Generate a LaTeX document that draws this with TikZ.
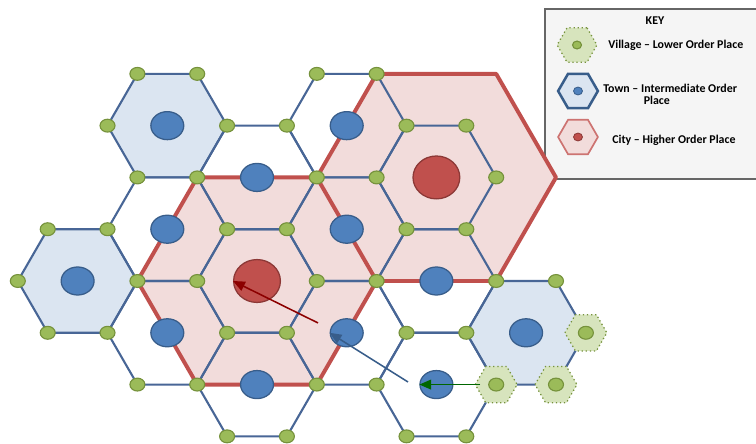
\documentclass[tikz,border=0pt]{standalone}
\usepackage{fontspec}
\setmainfont{Carlito}
\usetikzlibrary{shapes.geometric,arrows.meta}

\definecolor{gridblue}{RGB}{72,102,150}
\definecolor{townfill}{RGB}{219,229,241}
\definecolor{townblue}{RGB}{79,129,189}
\definecolor{townedge}{RGB}{56,93,138}
\definecolor{cityfill}{RGB}{242,220,219}
\definecolor{cityred}{RGB}{192,80,77}
\definecolor{cityedge}{RGB}{140,56,54}
\definecolor{villgreen}{RGB}{155,187,89}
\definecolor{villedge}{RGB}{118,146,60}
\definecolor{villfill}{RGB}{215,228,189}

\begin{document}
\begin{tikzpicture}
[
x=0.75cm, y=1.299cm,
road/.style={draw=gridblue, line width=1.5pt, line join=round},
bound/.style={draw=cityred, line width=2.8pt, line join=round},
vnode/.style={ellipse, fill=villgreen, draw=villedge, line width=0.8pt, minimum width=10.7pt, minimum height=9.2pt, inner sep=0},
tnode/.style={ellipse, fill=townblue, draw=townedge, line width=0.9pt, minimum width=23.5pt, minimum height=20pt, inner sep=0},
cnode/.style={ellipse, fill=cityred, draw=cityedge, line width=0.9pt, minimum width=33.4pt, minimum height=30.6pt, inner sep=0},
hexnode/.style={regular polygon, regular polygon sides=6, inner sep=0},
vhex/.style={hexnode, minimum size=29.9pt, fill=villfill, draw=villedge, dotted, line width=0.9pt},
flow/.style={line width=1.1pt, -{Triangle[length=8.5pt,width=7pt]}},
keytext/.style={font=\fontsize{8.5}{10}\selectfont\bfseries, inner sep=0}
]
\useasboundingbox (-6.447cm,-4.064cm) rectangle (12.517cm,7.049cm);

% key frame, behind the hexagons
\fill[black!4] (7.224cm,2.559cm) rectangle (12.7cm,6.823cm);
\draw[black!60, line width=0.8pt] (12.7cm,6.823cm) -| (7.224cm,2.559cm) -- (12.7cm,2.559cm);

% lattice points, one row at a time
\coordinate (a1) at (-4, 4); \coordinate (a2) at (-2, 4); \coordinate (a3) at ( 2, 4); \coordinate (a4) at ( 4, 4);
\coordinate (b1) at (-5, 3); \coordinate (b2) at (-1, 3); \coordinate (b3) at ( 1, 3); \coordinate (b4) at ( 5, 3); \coordinate (b5) at ( 7, 3);
\coordinate (c1) at (-4, 2); \coordinate (c2) at (-2, 2); \coordinate (c3) at ( 2, 2); \coordinate (c4) at ( 4, 2); \coordinate (c5) at ( 8, 2);
\coordinate (d1) at (-7, 1); \coordinate (d2) at (-5, 1); \coordinate (d3) at (-1, 1); \coordinate (d4) at ( 1, 1); \coordinate (d5) at ( 5, 1); \coordinate (d6) at ( 7, 1);
\coordinate (e1) at (-8, 0); \coordinate (e2) at (-4, 0); \coordinate (e3) at (-2, 0); \coordinate (e4) at ( 2, 0); \coordinate (e5) at ( 4, 0); \coordinate (e6) at ( 8, 0); \coordinate (e7) at (10, 0);
\coordinate (f1) at (-7,-1); \coordinate (f2) at (-5,-1); \coordinate (f3) at (-1,-1); \coordinate (f4) at ( 1,-1); \coordinate (f5) at ( 5,-1); \coordinate (f6) at ( 7,-1); \coordinate (f7) at (11,-1);
\coordinate (g1) at (-4,-2); \coordinate (g2) at (-2,-2); \coordinate (g3) at ( 2,-2); \coordinate (g4) at ( 4,-2); \coordinate (g5) at ( 8,-2); \coordinate (g6) at (10,-2);
\coordinate (h1) at (-1,-3); \coordinate (h2) at ( 1,-3); \coordinate (h3) at ( 5,-3); \coordinate (h4) at ( 7,-3);
\coordinate (p1) at ( 8, 4); \coordinate (p2) at (10, 2);

% city market areas
\fill[cityfill] (e2) -- (c2) -- (c3) -- (e5) -- (g3) -- (g2) -- cycle;
\fill[cityfill] (c3) -- (a4) -- (p1) -- (p2) -- (e6) -- (e5) -- cycle;

% town market areas
\filldraw[road, fill=townfill] (b1) -- (a1) -- (a2) -- (b2) -- (c2) -- (c1) -- cycle;
\filldraw[road, fill=townfill] (e1) -- (d1) -- (d2) -- (e2) -- (f2) -- (f1) -- cycle;
\filldraw[road, fill=townfill] (f6) -- (e6) -- (e7) -- (f7) -- (g6) -- (g5) -- cycle;

% the other cells
\draw[road] (c2) -- (b2) -- (b3) -- (c3) -- (d4) -- (d3) -- cycle;
\draw[road] (b3) -- (a3) -- (a4) -- (b4) -- (c4) -- (c3) -- cycle;
\draw[road] (d2) -- (c1) -- (c2) -- (d3) -- (e3) -- (e2) -- cycle;
\draw[road] (e3) -- (d3) -- (d4) -- (e4) -- (f4) -- (f3) -- cycle;
\draw[road] (d4) -- (c3) -- (c4) -- (d5) -- (e5) -- (e4) -- cycle;
\draw[road] (c4) -- (b4) -- (b5) -- (c5) -- (d6) -- (d5) -- cycle;
\draw[road] (f2) -- (e2) -- (e3) -- (f3) -- (g2) -- (g1) -- cycle;
\draw[road] (f4) -- (e4) -- (e5) -- (f5) -- (g4) -- (g3) -- cycle;
\draw[road] (g2) -- (f3) -- (f4) -- (g3) -- (h2) -- (h1) -- cycle;
\draw[road] (e5) -- (d5) -- (d6) -- (e6) -- (f6) -- (f5) -- cycle;
\draw[road] (g4) -- (f5) -- (f6) -- (g5) -- (h4) -- (h3) -- cycle;

\draw[bound] (e2) -- (c2) -- (c3) -- (e5) -- (g3) -- (g2) -- cycle;
\draw[bound] (c3) -- (a4) -- (p1) -- (p2) -- (e6) -- (e5);

% villages shared by three towns
\node[vhex] (vil1) at (f7) {};
\node[vhex] (vil2) at (g5) {};
\node[vhex] (vil3) at (g6) {};

\foreach \v in {a1,a2,a3,a4,b1,b2,b3,b4,b5,c1,c2,c3,c4,c5,d1,d2,d3,d4,d5,d6,
  e1,e2,e3,e4,e5,e6,e7,f1,f2,f3,f4,f5,f6,f7,g1,g2,g3,g4,g5,g6,h1,h2,h3,h4}
  \node[vnode] (v\v) at (\v) {};

\node[tnode] (t1)  at (-3, 3) {};
\node[tnode] (t2)  at ( 0, 2) {};
\node[tnode] (t3)  at ( 3, 3) {};
\node[tnode] (t4)  at (-3, 1) {};
\node[tnode] (t5)  at (-6, 0) {};
\node[tnode] (t6)  at ( 3, 1) {};
\node[tnode] (t7)  at (-3,-1) {};
\node[tnode] (t8)  at ( 3,-1) {};
\node[tnode] (t9)  at ( 0,-2) {};
\node[tnode] (t10) at ( 6, 0) {};
\node[tnode] (t11) at ( 9,-1) {};
\node[tnode] (t12) at ( 6,-2) {};

\node[cnode] (city1) at (0,0) {};
\node[cnode] (city2) at (6,2) {};

\coordinate (rtail) at (2.04,-0.81);
\coordinate (btail) at (5.05,-1.95);
\coordinate (gtail) at (7.46,-2);
\draw[flow, draw=green!40!black, fill=green!40!black] (gtail) to (t12.west);
\draw[flow, draw=townedge, fill=townedge] (btail) to (t8.west);
\draw[flow, draw=red!55!black, fill=red!55!black] (rtail) to (city1.west);

% key
\node[keytext] (key) at (9.983cm,6.522cm) {KEY};
\node[vhex, minimum size=28.4pt] (kvil) at (8.027cm,5.920cm) {};
\node[vnode, minimum width=6.4pt, minimum height=5.6pt] (kvdot) at (kvil) {};
\node[hexnode, minimum size=28.4pt, fill=townfill, draw=townedge, line width=1.8pt] (ktown) at (8.052cm,4.766cm) {};
\node[tnode, minimum width=6.4pt, minimum height=5.6pt, line width=0.6pt] (ktdot) at (ktown) {};
\node[hexnode, minimum size=28.4pt, fill=cityfill, draw=cityred!80, line width=1.2pt] (kcity) at (8.052cm,3.612cm) {};
\node[cnode, minimum width=6.4pt, minimum height=5.6pt, line width=0.6pt] (kcdot) at (kcity) {};
\node[keytext, anchor=west] (kvtext) at (8.805cm,5.920cm) {Village -- Lower Order Place};
\node[keytext, anchor=west] (kttext) at (8.679cm,4.841cm) {Town -- Intermediate Order};
\node[keytext] (kttext2) at (10.03cm,4.540cm) {Place};
\node[keytext, anchor=west] (kctext) at (8.905cm,3.537cm) {City -- Higher Order Place};
\end{tikzpicture}
\end{document}
